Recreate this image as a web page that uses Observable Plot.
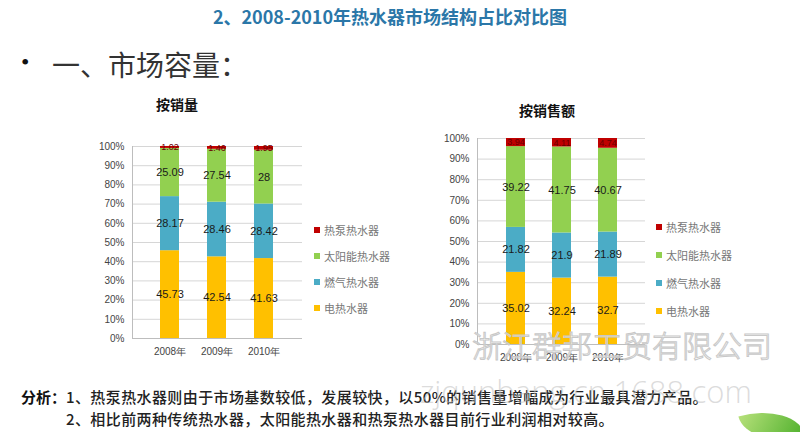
<!DOCTYPE html>
<html><head><meta charset="utf-8">
<script src="https://cdn.jsdelivr.net/npm/d3@7"></script>
<script src="https://cdn.jsdelivr.net/npm/@observablehq/plot@0.6"></script>
<style>
html,body{margin:0;padding:0;background:#fff;}
#page{position:relative;width:800px;height:432px;overflow:hidden;font-family:"Noto Sans CJK SC","Noto Sans",sans-serif;}
.abs{position:absolute;white-space:nowrap;}
.legend{position:absolute;width:110px;height:120px;font-size:11px;color:#777;font-family:"Noto Sans CJK SC",sans-serif;white-space:nowrap;}
.legend .item{position:absolute;left:0;display:flex;align-items:center;height:14px;white-space:nowrap;}
.legend .sw{display:inline-block;width:6px;height:6px;margin-right:4px;flex:none;}
</style></head>
<body><div id="page"></div>
<script>
const years = ["2008", "2009", "2010"];
const series = ["电热水器", "燃气热水器", "太阳能热水器", "热泵热水器"];
const colors = ["#FFC000", "#4BACC6", "#92D050", "#C00000"];
const volElectric = [45.73, 42.54, 41.63];
const volGas = [28.17, 28.46, 28.42];
const volSolar = [25.09, 27.54, 28];
const volHeatPump = [1.02, 1.46, 1.95];
const amtElectric = [35.02, 32.24, 32.7];
const amtGas = [21.82, 21.9, 21.89];
const amtSolar = [39.22, 41.75, 40.67];
const amtHeatPump = [3.94, 4.11, 4.74];
const yTicks = [0, 10, 20, 30, 40, 50, 60, 70, 80, 90, 100];

function rowsOf(lists) {
  const out = [];
  years.forEach((yr, i) => series.forEach((s, j) => out.push({year: yr, series: s, value: lists[j][i]})));
  return out;
}
const volRows = rowsOf([volElectric, volGas, volSolar, volHeatPump]);
const amtRows = rowsOf([amtElectric, amtGas, amtSolar, amtHeatPump]);

function chart(rows, opt) {
  return Plot.plot({
    width: opt.width, height: opt.height,
    marginLeft: 50, marginRight: 8, marginTop: 10, marginBottom: opt.mb,
    style: {fontFamily: "Liberation Sans, Arial, sans-serif", fontSize: "10px", color: "#444", background: "transparent"},
    x: {domain: years, padding: 0.59, label: null, tickSize: 0, tickPadding: 9, tickFormat: d => d + "年"},
    y: {domain: [0, 100], ticks: yTicks, tickFormat: d => d + "%", label: null, tickSize: 0, tickPadding: 8},
    color: {domain: series, range: colors},
    marks: [
      Plot.gridY(yTicks, {stroke: "#d6d6d6", strokeOpacity: 1}),
      Plot.frame({anchor: "left", stroke: "#bdbdbd"}),
      Plot.ruleY([0], {stroke: "#bdbdbd"}),
      Plot.barY(rows, {x: "year", y: "value", fill: "series"}),
      Plot.text(rows, Plot.stackY({x: "year", y: "value", z: "series", text: d => String(d.value),
        fill: d => d.series === "热泵热水器" ? "#6a0000" : "#1a1a1a",
        fontSize: d => d.series === "热泵热水器" ? 9 : 11})),
    ]
  });
}

const page = document.getElementById("page");
function addText(html, css) {
  const d = document.createElement("div");
  d.className = "abs";
  d.innerHTML = html;
  Object.assign(d.style, css);
  page.appendChild(d);
  return d;
}

addText("2、2008-2010年热水器市场结构占比对比图", {left: "200px", top: "3px", width: "380px", textAlign: "center", fontSize: "18px", fontWeight: "bold", color: "#2b77a8"});
addText("•", {left: "21px", top: "49px", fontSize: "24px", color: "#111", fontFamily: "Liberation Serif, serif"});
addText("一、市场容量：", {left: "52px", top: "44px", fontSize: "28px", color: "#333", fontWeight: "400"});

addText("按销量", {left: "137px", top: "94px", width: "80px", textAlign: "center", fontSize: "14px", fontWeight: "bold", color: "#111"});
addText("按销售额", {left: "507px", top: "100px", width: "80px", textAlign: "center", fontSize: "14px", fontWeight: "bold", color: "#111"});

const c1 = chart(volRows, {width: 228, height: 230, mb: 28});
Object.assign(c1.style, {position: "absolute", left: "82px", top: "136px"});
page.appendChild(c1);
const c2 = chart(amtRows, {width: 226, height: 242, mb: 26});
Object.assign(c2.style, {position: "absolute", left: "427px", top: "128px"});
page.appendChild(c2);

function legend(x, ys) {
  const lg = document.createElement("div");
  lg.className = "legend";
  lg.style.left = x + "px"; lg.style.top = "0px";
  lg.style.height = "330px";
  const order = [3, 2, 1, 0];
  order.forEach((k, i) => {
    const it = document.createElement("div");
    it.className = "item";
    it.style.top = (ys[i] - 7) + "px";
    it.innerHTML = `<span class="sw" style="background:${colors[k]}"></span><span>${series[k]}</span>`;
    lg.appendChild(it);
  });
  page.appendChild(lg);
}
legend(314, [230, 256, 282, 308]);
legend(656, [227, 255, 283, 311]);

addText("分析：", {left: "21px", top: "386px", fontSize: "15px", fontWeight: "bold", color: "#111"});
addText("1、热泵热水器则由于市场基数较低，发展较快，以50%的销售量增幅成为行业最具潜力产品。", {left: "66px", top: "386px", fontSize: "15px", fontWeight: "500", color: "#222", letterSpacing: "0.4px"});
addText("2、相比前两种传统热水器，太阳能热水器和热泵热水器目前行业利润相对较高。", {left: "66px", top: "408px", fontSize: "15px", fontWeight: "500", color: "#222", letterSpacing: "0.4px"});

addText("浙江群邦工贸有限公司", {left: "472px", top: "322px", fontSize: "30px", fontWeight: "300", color: "rgba(255,255,255,0.55)", webkitTextStroke: "1px #c8c8c8"});
addText("zjqunbang.cn.1688.com", {left: "420px", top: "370px", fontSize: "31px", fontWeight: "300", color: "rgba(190,190,190,0.55)", fontFamily: "\"Open Sans\", sans-serif"});

const leaf = document.createElement("div");
Object.assign(leaf.style, {position: "absolute", left: "742px", top: "408px", width: "60px", height: "36px", background: "linear-gradient(135deg,#b6e07a,#4caf2a)", borderRadius: "0 100% 0 100%", transform: "rotate(-15deg)"});
page.appendChild(leaf);
</script>
</body></html>
